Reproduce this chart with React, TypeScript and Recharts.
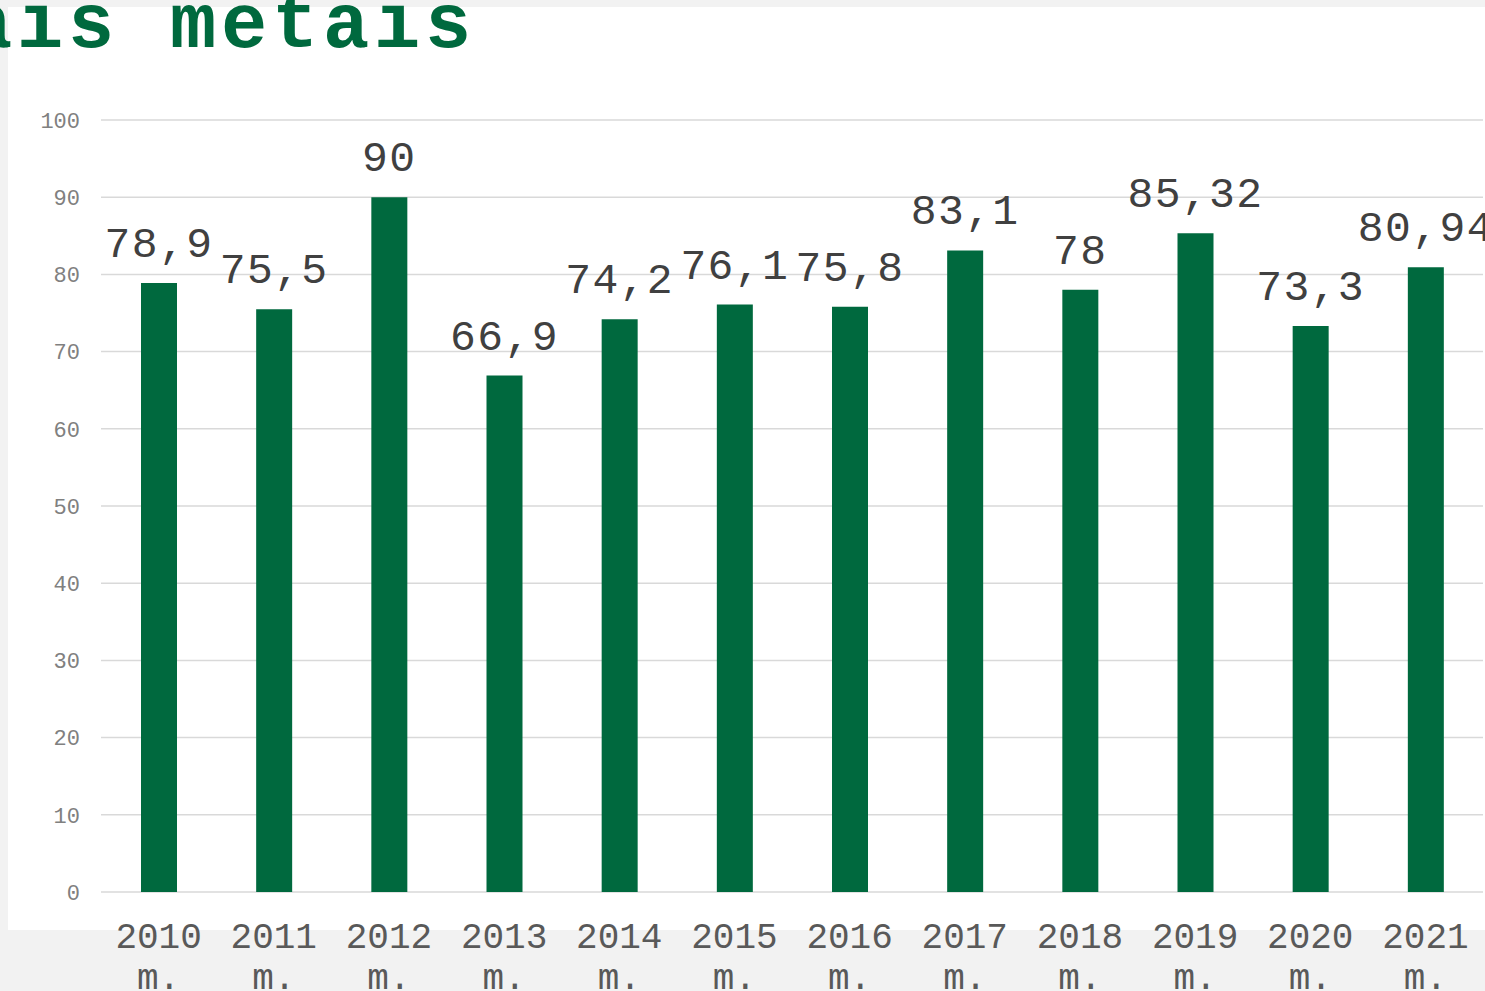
import React from "react";
import { BarChart, Bar, XAxis, YAxis, CartesianGrid, LabelList } from "recharts";

const years = ["2010", "2011", "2012", "2013", "2014", "2015", "2016", "2017", "2018", "2019", "2020", "2021"];
const values = [78.9, 75.5, 90, 66.9, 74.2, 76.1, 75.8, 83.1, 78, 85.32, 73.3, 80.94];
const yTicks = [0, 10, 20, 30, 40, 50, 60, 70, 80, 90, 100];
const yearSuffix = "m.";
const titleText = "ais metais";

const GREEN = "#00693e";
const MONO = "'Courier New', 'Liberation Mono', monospace";

const chartData = years.map((year, i) => ({ year, value: values[i] }));

// two line category label: year and "m."
const YearTick = ({ x, y, payload }: any) => (
  <g transform={`translate(${x},${y})`}>
    <text textAnchor="middle" fontFamily={MONO} fontSize={36} fill="#595959">
      <tspan x={0} dy={54}>{payload.value}</tspan>
      <tspan x={0} dy={41}>{yearSuffix}</tspan>
    </text>
  </g>
);

const ValueLabel = ({ x, y, width, value }: any) => (
  <text
    x={x + width / 2}
    y={y - 26}
    textAnchor="middle"
    fontFamily={MONO}
    fontSize={43}
    letterSpacing={1.4}
    fill="#404040"
  >
    {String(value).replace(".", ",")}
  </text>
);

export default function App() {
  return (
    <div
      style={{
        position: "absolute",
        left: 0,
        top: 0,
        width: 1485,
        height: 991,
        background: "#f2f2f2",
        overflow: "hidden",
      }}
    >
      {/* white chart panel */}
      <div
        style={{
          position: "absolute",
          left: 8,
          top: 7,
          width: 1485,
          height: 923,
          background: "#ffffff",
        }}
      />

      {/* title, cut off on the left as in the source */}
      <svg width={1485} height={80} style={{ position: "absolute", left: 0, top: 0 }}>
        <text
          x={-34}
          y={47}
          fontFamily={MONO}
          fontWeight="bold"
          fontSize={77}
          letterSpacing={4.8}
          fill={GREEN}
        >
          {titleText}
        </text>
      </svg>

      <div style={{ position: "absolute", left: 0, top: 0 }}>
        <BarChart
          width={1485}
          height={991}
          data={chartData}
          margin={{ top: 120, right: 2, left: 0, bottom: 0 }}
        >
          <CartesianGrid vertical={false} stroke="#d9d9d9" strokeWidth={1.5} />
          <XAxis
            dataKey="year"
            axisLine={false}
            tickLine={false}
            tickSize={0}
            interval={0}
            height={99}
            tick={<YearTick />}
          />
          <YAxis
            domain={[0, 100]}
            ticks={yTicks}
            width={101}
            axisLine={false}
            tickLine={false}
            tickSize={0}
            tickMargin={21}
            tick={{ fontFamily: MONO, fontSize: 22, fill: "#808080" }}
          />
          <Bar dataKey="value" fill={GREEN} barSize={36} isAnimationActive={false}>
            <LabelList dataKey="value" content={<ValueLabel />} />
          </Bar>
        </BarChart>
      </div>
    </div>
  );
}
